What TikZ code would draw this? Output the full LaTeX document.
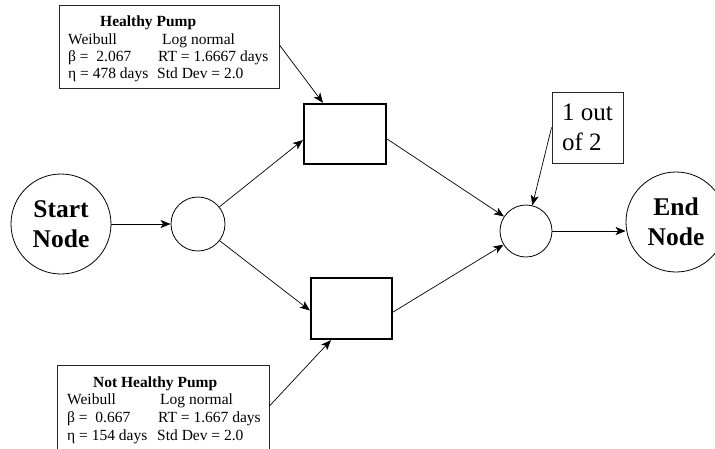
\documentclass[tikz,border=0pt]{standalone}
\usepackage{fontspec}
\setmainfont{Liberation Serif}
\usetikzlibrary{arrows.meta,calc}
\begin{document}
\begin{tikzpicture}[x=1pt,y=-1pt,
  arr/.style={-{Stealth[length=10pt,width=8pt,inset=2.5pt]}, line width=0.7pt},
  info/.style={draw=black!85, line width=0.9pt, inner sep=0pt},
  sm/.style={font=\fontsize{15.5}{17}\selectfont, anchor=base west, inner sep=0pt},
  smb/.style={sm, font=\fontsize{15.5}{17}\selectfont\bfseries},
  bignode/.style={circle, draw, line width=0.8pt, inner sep=0pt, minimum size=100pt,
    align=center, font=\fontsize{25.5}{30}\selectfont\bfseries},
  junction/.style={circle, draw, line width=0.8pt, inner sep=0pt, minimum size=54pt},
  pumpbox/.style={rectangle, draw, line width=2.2pt, inner sep=0pt},
  votebox/.style={rectangle, draw=black!85, line width=0.9pt, inner sep=0pt,
    minimum width=71pt, minimum height=71pt, align=left, font=\fontsize{25}{30}\selectfont}
]
\useasboundingbox (0,0) rectangle (715,448);
\clip (0,0) rectangle (715,448);

% info boxes
\node[info, minimum width=220pt, minimum height=83pt] (hbox) at (169,46.5) {};
\node[smb] (ht) at (100,26) {Healthy Pump};
\node[sm] (hw) at (68,44) {Weibull};
\node[sm] (hl) at (162,44) {Log normal};
\node[sm] (hb) at (68,61) {β =~~2.067};
\node[sm] (hrt) at (158,61) {RT = 1.6667 days};
\node[sm] (he) at (68,78) {η = 478 days};
\node[sm] (hs) at (157,78) {Std Dev = 2.0};

\node[info, minimum width=212pt, minimum height=95pt] (nbox) at (163,412.5) {};
\node[smb] (nt) at (93,387) {Not Healthy Pump};
\node[sm] (nw) at (67,404) {Weibull};
\node[sm] (nl) at (160,404) {Log normal};
\node[sm] (nb) at (67,422) {β =~~0.667};
\node[sm] (nrt) at (158,422) {RT = 1.667 days};
\node[sm] (ne) at (67,440) {η = 154 days};
\node[sm] (ns) at (157,440) {Std Dev = 2.0};

% main graph
\node[bignode] (start) at (61,224) {Start\\Node};
\node[junction] (lc) at (198,224) {};
\node[pumpbox, minimum width=82pt, minimum height=60pt] (ur) at (345,134) {};
\node[pumpbox, minimum width=81pt, minimum height=61pt] (lr) at (351.5,308.5) {};
\node[circle, draw, line width=0.8pt, inner sep=0pt, minimum size=52pt] (rc) at (526,231) {};
\node[bignode] (endn) at (676,222) {End\\Node};
\node[votebox] (oo) at (587.5,127.5) {1 out\\of 2};

\draw[arr] (start) -- (lc);
\draw[arr] (lc) -- ($(ur.west)+(0,6)$);
\draw[arr] (lc) -- ($(lr.west)+(0,2)$);
\draw[arr] ($(ur.east)+(0,5)$) -- (rc);
\draw[arr] ($(lr.east)+(0,3.5)$) -- (rc);
\draw[arr] (rc.east) -- (rc.east -| endn.west);
\draw[arr] (oo.west) -- (rc);
\draw[arr] ($(hbox.east)+(0,-1.5)$) -- ($(ur.north)+(-22,0)$);
\draw[arr] ($(nbox.east)+(0,-6.5)$) -- ($(lr.south)+(-20.5,0)$);
\end{tikzpicture}
\end{document}
